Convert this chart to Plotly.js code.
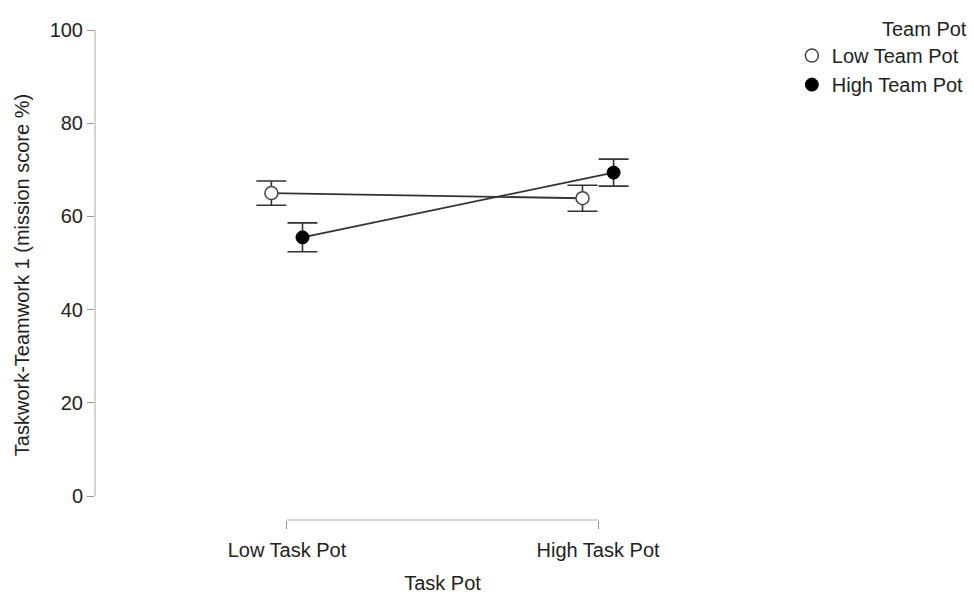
<!DOCTYPE html>
<html>
<head>
<meta charset="utf-8">
<script src="https://cdn.plot.ly/plotly-3.0.1.min.js"></script>
<style>html,body{margin:0;padding:0;background:#fff;}#chart{width:974px;height:594px;}</style>
</head>
<body>
<div id="chart"></div>
<script>
// Data
const categories = ["Low Task Pot", "High Task Pot"];
const seriesNames = ["Low Team Pot", "High Team Pot"];
const lowTeamMeans = [65.0, 63.9];
const lowTeamErr = [2.6, 2.8];
const highTeamMeans = [55.5, 69.4];
const highTeamErr = [3.1, 2.9];
const yTicks = [0, 20, 40, 60, 80, 100];

const catPos = [0, 1];
const dodge = 0.05;
const FONT = "Liberation Sans, Arial, sans-serif";
const TXT = "#222";

function xs(off) { return catPos.map(v => v + off); }

const traces = [
  {x: xs(-dodge), y: lowTeamMeans, mode: "lines", line: {color: "#333", width: 1.8}, showlegend: false, hoverinfo: "skip"},
  {x: xs(dodge), y: highTeamMeans, mode: "lines", line: {color: "#333", width: 1.8}, showlegend: false, hoverinfo: "skip"},
  {x: xs(-dodge), y: lowTeamMeans, name: seriesNames[0], mode: "markers",
   marker: {symbol: "circle", size: 13, color: "#fff", line: {color: "#444", width: 1.5}},
   error_y: {type: "data", array: lowTeamErr, visible: true, color: "#333", thickness: 1.6, width: 15}},
  {x: xs(dodge), y: highTeamMeans, name: seriesNames[1], mode: "markers",
   marker: {symbol: "circle", size: 13, color: "#000", line: {color: "#000", width: 1}},
   error_y: {type: "data", array: highTeamErr, visible: true, color: "#333", thickness: 1.6, width: 15}}
];

const layout = {
  width: 974, height: 594,
  margin: {l: 95, r: 184, t: 30, b: 74},
  paper_bgcolor: "#fff", plot_bgcolor: "#fff",
  font: {family: FONT, size: 20, color: TXT},
  xaxis: {
    range: [-0.617, 1.617], showgrid: false, zeroline: false, showline: false,
    tickmode: "array", tickvals: catPos, ticktext: categories,
    ticks: "outside", ticklen: 8, tickcolor: "#999", tickwidth: 1,
    ticklabelstandoff: 4,
    title: {text: "Task Pot", font: {size: 20, color: TXT}, standoff: 16},
    automargin: false
  },
  yaxis: {
    range: [-5.15, 100], showgrid: false, zeroline: false, showline: false,
    tickmode: "array", tickvals: yTicks, ticktext: yTicks.map(String),
    ticks: "outside", ticklen: 7, tickcolor: "#999", tickwidth: 1,
    title: {text: "Taskwork-Teamwork 1 (mission score %)", font: {size: 20, color: TXT}, standoff: 14},
    automargin: false
  },
  shapes: [
    {type: "line", xref: "paper", yref: "y", x0: 0, x1: 0, y0: 0, y1: 100, line: {color: "#aaa", width: 1}},
    {type: "line", xref: "x", yref: "paper", x0: catPos[0], x1: catPos[1], y0: 0, y1: 0, line: {color: "#aaa", width: 1}}
  ],
  showlegend: true,
  legend: {
    xref: "container", yref: "container",
    x: 0.813, y: 0.983, xanchor: "left", yanchor: "top",
    bgcolor: "rgba(0,0,0,0)",
    font: {size: 20, color: TXT},
    title: {text: "Team Pot", side: "top right", font: {size: 20, color: TXT}},
    tracegroupgap: 0
  }
};

Plotly.newPlot("chart", traces, layout, {displayModeBar: false, staticPlot: true});
</script>
</body>
</html>
